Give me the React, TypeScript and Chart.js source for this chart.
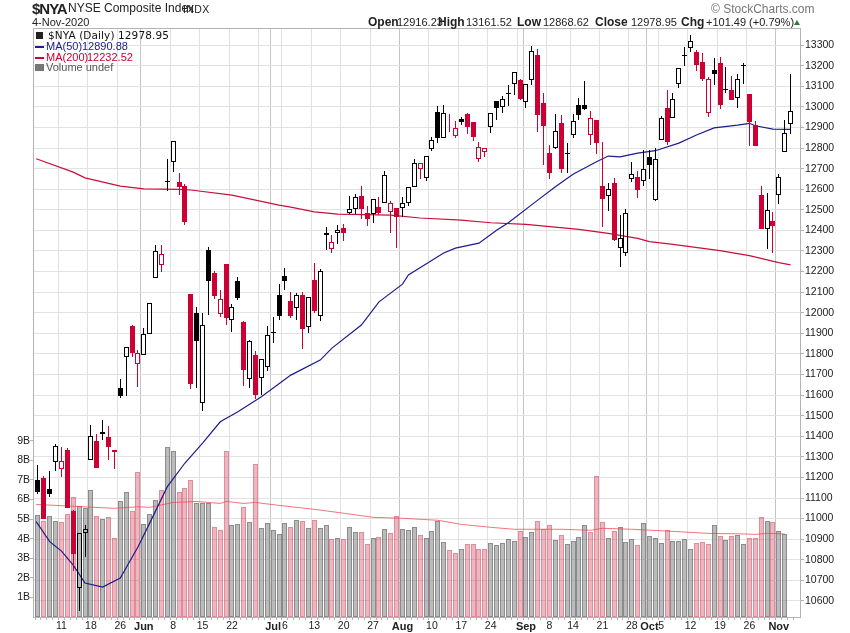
import React, { useEffect, useRef } from "react";
import { Chart, registerables } from "chart.js";

Chart.register(...registerables);

const opens = [11187,11196,11142,11276,11242,11333,11037,10661,10928,11283,11375,11409,11396,11322,11632,11783,11935,11749,11797,11899,12171,12234,12636,12730,12634,12615,12092,11998,11563,12303,12191,11992,12235,11963,12152,11954,11676,11793,11681,11734,11900,12084,12178,12055,12021,12084,11932,12157,11985,12376,12308,12389,12410,12486,12505,12565,12483,12478,12512,12531,12487,12507,12507,12531,12609,12698,12652,12793,12973,12847,12917,12860,12941,12963,12925,12745,12779,12900,13026,13001,13064,13109,13130,13025,13129,13252,13017,12774,12801,12920,12774,12861,13007,13007,12861,12936,12615,12568,12628,12313,12288,12648,12659,12638,12755,12549,12837,12992,12944,13109,13247,13284,13265,13216,12968,13177,13211,13085,13082,13041,13199,13061,12913,12570,12405,12444,12570,12779,12916.23];
const highs = [11260,11207,11231,11362,11348,11341,11042,10928,10969,11455,11411,11479,11450,11332,11676,11835,11940,11818,11924,12045,12328,12328,12749,12832,12680,12625,12092,12027,11998,12317,12202,12110,12235,12042,12173,11958,11867,11814,11773,11935,11977,12139,12215,12103,12097,12099,12075,12240,12212,12416,12377,12426,12431,12567,12575,12615,12518,12551,12560,12688,12541,12507,12560,12609,12745,12725,12759,12852,13004,13009,12965,12931,12952,12968,12925,12827,12801,12968,13026,13052,13106,13167,13133,13109,13295,13281,13065,12813,12965,12959,12823,12965,13041,13125,12980,12936,12829,12631,12652,12474,12502,12730,12688,12790,12790,12801,12955,13082,13067,13187,13289,13349,13276,13260,13143,13235,13240,13192,13150,13158,13211,13061,12931,12615,12581,12489,12674,12936,13161.52];
const lows = [11119,10998,11105,11231,11202,11050,10745,10553,10815,11283,11247,11382,11285,11241,11587,11597,11783,11640,11797,11899,12171,12199,12592,12685,12573,12427,11631,11635,11524,11988,12065,11980,11941,11904,12063,11645,11635,11579,11600,11718,11854,11966,12111,11972,11964,11824,11903,11997,11961,12304,12291,12334,12350,12478,12478,12453,12421,12437,12474,12531,12389,12316,12463,12520,12609,12651,12641,12787,12823,12847,12879,12850,12912,12866,12835,12733,12758,12874,12936,12971,13004,13057,13033,12996,13106,12879,12719,12651,12797,12680,12677,12850,12936,12984,12814,12771,12418,12494,12350,12224,12277,12636,12555,12617,12649,12544,12837,12814,12944,13093,13198,13268,13175,13127,12952,13106,12991,13069,13035,12996,13111,12811,12811,12408,12309,12288,12529,12779,12868.62];
const closes = [11131,11000,11121,11351,11278,11053,10830,10928,10948,11400,11247,11419,11349,11332,11597,11835,11802,11802,11899,12045,12298,12283,12640,12832,12612,12442,11653,11864,11938,12155,12082,12069,11975,12026,12073,11723,11861,11600,11773,11890,11904,11985,12155,11985,12084,11922,12075,12010,12201,12385,12345,12400,12389,12505,12563,12505,12457,12551,12486,12667,12531,12463,12531,12609,12725,12725,12759,12837,12847,12968,12915,12895,12928,12903,12855,12806,12801,12968,12996,13036,13067,13167,13038,13109,13269,12962,12908,12680,12881,12700,12772,12929,12962,12991,12944,12826,12554,12599,12353,12361,12483,12672,12596,12696,12719,12745,12944,12831,13036,13187,13250,13318,13205,13137,13133,13159,13010,13083,13035,13137,13201,12928,12811,12408,12497,12423,12657,12871,12978.95];
const redDays = [1,4,5,6,10,12,13,16,17,21,24,25,26,30,31,32,35,37,43,45,47,50,52,55,56,58,60,61,65,70,71,73,74,75,76,82,85,86,87,89,94,95,96,98,102,107,112,113,114,116,118,121,122,123,125];
const volumes = [5.19,4.88,5.14,4.88,4.83,5.24,6.11,5.65,5.55,6.48,5.14,4.99,5.09,4.02,5.91,6.37,5.40,7.40,4.73,5.24,5.96,6.48,8.66,8.46,6.37,6.57,6.98,5.80,5.80,5.80,4.58,4.43,8.46,4.68,4.73,5.60,4.83,7.80,4.53,4.78,4.43,4.22,4.78,4.58,4.94,4.88,4.53,4.94,4.53,4.68,3.97,4.02,3.97,4.58,4.32,4.32,3.71,4.02,4.07,4.48,4.27,5.14,4.48,4.43,4.58,4.17,4.02,4.37,4.88,3.81,3.43,3.25,3.49,3.71,3.71,3.49,3.49,3.76,3.66,3.76,3.97,3.86,4.37,4.07,4.32,4.88,4.48,4.68,3.91,4.17,3.71,3.86,4.07,4.68,4.32,7.18,4.83,4.02,4.37,4.58,3.81,3.97,3.66,4.78,4.12,4.02,3.76,4.43,3.86,3.86,3.97,3.49,3.76,3.81,3.71,4.68,4.12,3.91,4.12,4.17,3.71,4.02,4.02,5.09,4.88,4.83,4.37,4.22];

const ma50Days = [-0.3,2,4,6,8,11,14,17,19,22,25,28,31,34,38,43,48,50,55,58,62,63,69,71,75,78,80,85,88,91,95,97,99,102,105,109,112,115,119,121,122,125,128];
const ma50Values = [10985,10888,10842,10774,10687,10667,10711,10862,10978,11155,11270,11367,11470,11519,11592,11697,11770,11828,11940,12053,12139,12183,12290,12314,12338,12401,12437,12547,12612,12673,12733,12761,12757,12775,12787,12824,12863,12898,12911,12920,12908,12892,12890.88];
const ma200Days = [-0.3,6,8,14,18,24,26,33,37,41,43,47,51,60,65,72,77,83,92,97,102,104,108,116,121,126,128];
const ma200Values = [12748,12683,12655,12615,12602,12599,12596,12571,12547,12523,12513,12490,12479,12474,12460,12450,12437,12429,12405,12385,12361,12345,12332,12302,12277,12243,12232.52];
const volMaDays = [-0.3,5,13,17,19,23,27,31,32,35,37,41,47,52,57,62,68,72,77,81,89,94,96,101,107,114,119,122,124,127];
const volMaValues = [5.75,5.67,5.55,5.63,5.6,5.85,5.9,5.8,5.9,5.8,5.85,5.7,5.5,5.3,5.09,5.04,4.94,4.73,4.58,4.48,4.48,4.43,4.53,4.48,4.39,4.27,4.25,4.22,4.27,4.24];

const dateTickDays = [4,9,14,18,23,28,33,38,40,42,47,52,57,62,67,72,77,82,83,87,91,96,101,104,106,111,116,121,126];
const dateTickLabels = ["11","18","26","Jun","8","15","22","","Jul","6","13","20","27","Aug","10","17","24","","Sep","8","14","21","28","Oct","5","12","19","26","Nov"];
const monthDays = [18,40,62,83,104,126];
const priceTicks = [10600,10700,10800,10900,11000,11100,11200,11300,11400,11500,11600,11700,11800,11900,12000,12100,12200,12300,12400,12500,12600,12700,12800,12900,13000,13100,13200,13300];
const volumeTicks = [1,2,3,4,5,6,7,8,9];

const FONT = "'Liberation Sans', Arial, sans-serif";
const CRIMSON = "#cc0033";

function App() {
  const ref = useRef<HTMLCanvasElement | null>(null);
  useEffect(() => {
    const isRed = (i: number) => redDays.includes(i);
    const days = closes.map((_, i) => i);
    const snap: any = {
      id: "snap",
      afterDatasetsUpdate(chart: any) {
        chart.data.datasets.forEach((d: any, di: number) => {
          if (d.type === "line") return;
          chart.getDatasetMeta(di).data.forEach((el: any) => {
            el.x = Math.floor(el.x) + 0.5;
            el.y = Math.round(el.y);
            el.base = Math.round(el.base);
          });
        });
      },
    };
    const frame: any = {
      id: "frame",
      afterDraw(chart: any) {
        const { left, top, right, bottom } = chart.chartArea;
        const c = chart.ctx;
        c.save();
        c.strokeStyle = "#b4b4b4";
        c.lineWidth = 1;
        c.strokeRect(left + 0.5, top + 0.5, right - left, bottom - top);
        c.restore();
      },
    };
    const barBase = { grouped: false, borderSkipped: false, inflateAmount: 0 };
    const chart = new Chart(ref.current as HTMLCanvasElement, {
      type: "bar",
      plugins: [snap, frame],
      data: {
        datasets: [
          {
            ...barBase,
            label: "Volume",
            yAxisID: "yVol",
            order: 6,
            barThickness: 5,
            borderWidth: 1,
            data: volumes.map((v, i) => ({ x: i, y: [0, v] })),
            backgroundColor: volumes.map((_, i) => (isRed(i) ? "rgba(190,20,50,0.30)" : "rgba(120,120,120,0.50)")),
            borderColor: volumes.map((_, i) => (isRed(i) ? "rgba(215,90,110,0.70)" : "rgba(120,120,120,0.85)")),
          },
          {
            type: "line",
            label: "Volume MA",
            yAxisID: "yVol",
            order: 5,
            data: volMaDays.map((x, i) => ({ x, y: volMaValues[i] })),
            borderColor: "rgba(240,70,80,0.75)",
            borderWidth: 1,
            pointRadius: 0,
            tension: 0,
          },
          {
            type: "line",
            label: "MA(50)",
            yAxisID: "y",
            order: 4,
            data: ma50Days.map((x, i) => ({ x, y: ma50Values[i] })),
            borderColor: "#1c1c8c",
            borderWidth: 1.2,
            pointRadius: 0,
            tension: 0,
          },
          {
            type: "line",
            label: "MA(200)",
            yAxisID: "y",
            order: 4,
            data: ma200Days.map((x, i) => ({ x, y: ma200Values[i] })),
            borderColor: "#c8103c",
            borderWidth: 1.2,
            pointRadius: 0,
            tension: 0,
          },
          {
            ...barBase,
            label: "Upper wick",
            yAxisID: "y",
            order: 3,
            barThickness: 1,
            borderWidth: 0,
            data: days.map((i) => ({ x: i, y: [Math.max(opens[i], closes[i]), highs[i]] })),
            backgroundColor: days.map((i) => (isRed(i) ? CRIMSON : "#000000")),
          },
          {
            ...barBase,
            label: "Lower wick",
            yAxisID: "y",
            order: 3,
            barThickness: 1,
            borderWidth: 0,
            data: days.map((i) => ({ x: i, y: [lows[i], Math.min(opens[i], closes[i])] })),
            backgroundColor: days.map((i) => (isRed(i) ? CRIMSON : "#000000")),
          },
          {
            ...barBase,
            label: "$NYA",
            yAxisID: "y",
            order: 2,
            barThickness: 5,
            borderWidth: 1,
            data: days.map((i) => ({ x: i, y: [opens[i], closes[i]] })),
            backgroundColor: days.map((i) =>
              closes[i] > opens[i] ? "rgba(0,0,0,0)" : isRed(i) ? CRIMSON : "#000000"
            ),
            borderColor: days.map((i) => (isRed(i) ? CRIMSON : "#000000")),
          },
        ] as any,
      },
      options: {
        responsive: false,
        animation: false,
        devicePixelRatio: 1,
        layout: { padding: { top: 28 } },
        plugins: { legend: { display: false }, tooltip: { enabled: false } },
        scales: {
          x: {
            type: "linear",
            min: -0.34,
            max: 129.1,
            afterFit(s: any) { s.height = 16; },
            afterBuildTicks(s: any) { s.ticks = days.map((value) => ({ value })); },
            grid: {
              color: (c: any) =>
                monthDays.includes(c.tick?.value) ? "#c4c4c4" : dateTickDays.includes(c.tick?.value) ? "#e2e2e2" : "rgba(0,0,0,0)",
              lineWidth: 1,
              tickColor: "#b4b4b4",
              tickLength: 3,
            },
            border: { display: false },
            ticks: {
              autoSkip: false,
              maxRotation: 0,
              padding: 0,
              color: "#222",
              font: (c: any) => ({
                family: FONT,
                size: monthDays.includes(c.tick?.value) ? 11 : 10.5,
                weight: monthDays.includes(c.tick?.value) ? "bold" : "normal",
              }),
              callback: (v: any) => {
                const k = dateTickDays.indexOf(v);
                return k >= 0 ? dateTickLabels[k] : "";
              },
            },
          },
          y: {
            position: "right",
            min: 10522,
            max: 13383,
            afterFit(s: any) { s.width = 50; },
            afterBuildTicks(s: any) { s.ticks = priceTicks.map((value) => ({ value })); },
            grid: { color: "#e2e2e2", lineWidth: 1, tickColor: "#b4b4b4", tickLength: 4 },
            border: { display: false },
            ticks: { autoSkip: false, padding: 1, color: "#222", font: { family: FONT, size: 10.5 }, callback: (v: any) => String(v) },
          },
          yVol: {
            position: "left",
            min: 0,
            max: 30.08,
            afterFit(s: any) { s.width = 33; },
            afterBuildTicks(s: any) { s.ticks = volumeTicks.map((value) => ({ value })); },
            grid: { drawOnChartArea: false, tickColor: "#b4b4b4", tickLength: 3 },
            border: { display: false },
            ticks: { autoSkip: false, padding: 0, color: "#222", font: { family: FONT, size: 10.5 }, callback: (v: any) => `${v}B` },
          },
        },
      } as any,
    });
    return () => chart.destroy();
  }, []);

  const t = (left: number, top: number, text: string, style: any = {}) => (
    <span style={{ position: "absolute", left, top, whiteSpace: "pre", font: `11px ${FONT}`, color: "#222", lineHeight: "13px", ...style }}>{text}</span>
  );
  const bold = { fontWeight: "bold", fontSize: 12, color: "#222" };
  const verd = { font: "10.5px 'DejaVu Sans', sans-serif", letterSpacing: "0.1px", color: "#111" };
  return (
    <div style={{ position: "fixed", left: 0, top: 0, width: 850, height: 633, background: "#fff", overflow: "hidden" }}>
      <canvas ref={ref} width={850} height={633} style={{ display: "block", width: 850, height: 633 }} />
      {t(32, 1, "$NYA", { fontWeight: "bold", fontSize: 15, letterSpacing: "-1px", lineHeight: "16px", color: "#222" })}
      {t(68, 2, "NYSE Composite Index", { fontSize: 12 })}
      {t(183, 3, "INDX", { fontSize: 10.5, letterSpacing: "0.4px" })}
      {t(32, 16, "4-Nov-2020", { fontSize: 11 })}
      {t(711, 3, "© StockCharts.com", { fontSize: 12, color: "#777" })}
      {t(368, 16, "Open", bold)}
      {t(397, 16, "12916.23")}
      {t(438, 16, "High", bold)}
      {t(466, 16, "13161.52")}
      {t(517, 16, "Low", bold)}
      {t(543, 16, "12868.62")}
      {t(595, 16, "Close", bold)}
      {t(631, 16, "12978.95")}
      {t(681, 16, "Chg", bold)}
      {t(706, 16, "+101.49 (+0.79%)")}
      <div style={{ position: "absolute", left: 794, top: 20, width: 0, height: 0, borderLeft: "3.5px solid transparent", borderRight: "3.5px solid transparent", borderBottom: "5px solid #2e7d32" }} />
      <div style={{ position: "absolute", left: 36, top: 32, width: 7, height: 7, background: "#222" }} />
      {t(48, 29, "$NYA (Daily) 12978.95", verd)}
      <div style={{ position: "absolute", left: 35, top: 46, width: 9, height: 2, background: "#1c1c8c" }} />
      {t(46, 40, "MA(50)", { color: "#1c1c8c" })}
      {t(82, 40, "12890.88", { color: "#1c1c8c" })}
      <div style={{ position: "absolute", left: 35, top: 57, width: 9, height: 2, background: CRIMSON }} />
      {t(46, 51, "MA(200)", { color: CRIMSON })}
      {t(87, 51, "12232.52", { color: CRIMSON })}
      <div style={{ position: "absolute", left: 35, top: 64, width: 9, height: 7, background: "#777" }} />
      {t(46, 61, "Volume undef", { color: "#555" })}
    </div>
  );
}

export default App;
